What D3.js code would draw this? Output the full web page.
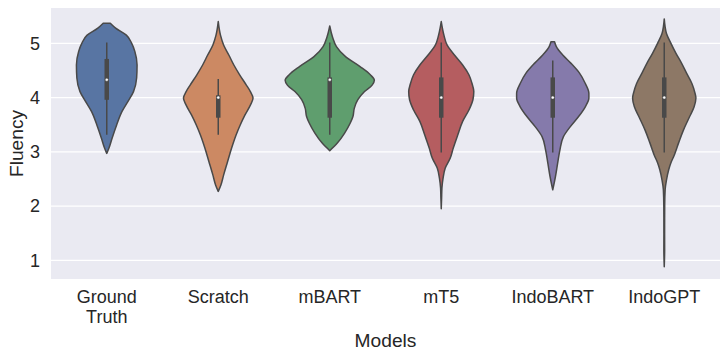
<!DOCTYPE html>
<html>
<head>
<meta charset="utf-8">
<script src="https://cdn.jsdelivr.net/npm/d3@7"></script>
<style>
  html, body { margin: 0; padding: 0; background: #ffffff; }
  svg { display: block; }
  text { font-family: "Liberation Sans", Arial, sans-serif; fill: #262626; }
</style>
</head>
<body>
<svg id="chart" width="727" height="357"></svg>
<script>
// ---------- data ----------
const categories = ["Ground Truth", "Scratch", "mBART", "mT5", "IndoBART", "IndoGPT"];
const categoryLabels = [["Ground", "Truth"], ["Scratch"], ["mBART"], ["mT5"], ["IndoBART"], ["IndoGPT"]];
const yTicks = [1, 2, 3, 4, 5];
const xAxisTitle = "Models";
const yAxisTitle = "Fluency";

// kernel density outlines: [fluency value, relative density]
const densityGroundTruth = [[5.37,0.08],[5.28,0.20],[5.15,0.44],[5.0,0.56],[4.85,0.63],[4.6,0.68],[4.36,0.67],[4.11,0.60],[3.92,0.47],[3.74,0.34],[3.49,0.22],[3.25,0.12],[3.07,0.05],[2.97,0]];
const densityScratch = [[5.40,0],[5.15,0.05],[4.97,0.12],[4.78,0.24],[4.60,0.35],[4.42,0.48],[4.23,0.63],[4.11,0.72],[3.99,0.78],[3.86,0.72],[3.68,0.60],[3.49,0.49],[3.31,0.40],[3.07,0.30],[2.82,0.21],[2.57,0.12],[2.39,0.06],[2.27,0]];
const densityMBART = [[5.32,0],[5.12,0.06],[4.94,0.15],[4.75,0.36],[4.57,0.68],[4.42,0.91],[4.32,1.0],[4.23,0.95],[4.11,0.78],[3.96,0.63],[3.80,0.55],[3.65,0.52],[3.53,0.46],[3.34,0.33],[3.16,0.17],[3.02,0]];
const densityMT5 = [[5.40,0],[5.15,0.06],[4.97,0.13],[4.78,0.30],[4.60,0.48],[4.42,0.62],[4.26,0.69],[4.11,0.73],[3.96,0.71],[3.77,0.62],[3.56,0.48],[3.31,0.37],[3.07,0.27],[2.88,0.20],[2.70,0.09],[2.51,0.04],[2.33,0.015],[2.15,0.008],[1.95,0]];
const densityIndoBART = [[5.03,0.04],[4.94,0.08],[4.78,0.23],[4.63,0.41],[4.45,0.60],[4.26,0.73],[4.08,0.81],[3.99,0.81],[3.83,0.73],[3.65,0.58],[3.46,0.39],[3.28,0.24],[3.03,0.16],[2.79,0.11],[2.54,0.06],[2.30,0]];
const densityIndoGPT = [[5.45,0],[5.18,0.05],[5.0,0.15],[4.82,0.26],[4.63,0.39],[4.45,0.50],[4.26,0.62],[4.08,0.69],[3.99,0.71],[3.83,0.67],[3.65,0.57],[3.40,0.43],[3.16,0.32],[2.91,0.21],[2.80,0.15],[2.67,0.10],[2.48,0.05],[2.30,0.02],[2.0,0.01],[1.5,0.008],[1.2,0.009],[0.88,0]];
const densities = [densityGroundTruth, densityScratch, densityMBART, densityMT5, densityIndoBART, densityIndoGPT];

// inner box statistics
const whiskerLow  = [3.33, 3.33, 3.33, 3.0, 3.0, 3.0];
const quartile1   = [4.0, 3.67, 3.67, 3.67, 3.67, 3.67];
const medians     = [4.33, 4.0, 4.33, 4.0, 4.0, 4.0];
const quartile3   = [4.67, 4.0, 4.33, 4.33, 4.33, 4.33];
const whiskerHigh = [5.0, 4.33, 5.0, 5.0, 4.67, 5.0];

const palette = ["#5875A3", "#CC8963", "#5F9E6E", "#B55D60", "#857AAB", "#8D7866"];

// ---------- layout ----------
const svg = d3.select("#chart");
const plot = { left: 51, top: 8, right: 720, bottom: 279 };
const gray = "#494949";

const x = d3.scaleBand().domain(categories).range([plot.left, plot.right]).padding(0);
const y = d3.scaleLinear().domain([0.655, 5.651]).range([plot.bottom, plot.top]);
const dens = d3.scaleLinear().domain([0, 1]).range([0, x.bandwidth() * 0.4]);

// background
svg.append("rect")
  .attr("x", plot.left).attr("y", plot.top)
  .attr("width", plot.right - plot.left).attr("height", plot.bottom - plot.top)
  .attr("fill", "#EAEAF2");

// grid
svg.append("g").selectAll("line").data(yTicks).join("line")
  .attr("x1", plot.left).attr("x2", plot.right)
  .attr("y1", d => y(d)).attr("y2", d => y(d))
  .attr("stroke", "#ffffff").attr("stroke-width", 1.25);

// y axis (no line, no ticks)
const yAxis = d3.axisLeft(y).tickValues(yTicks).tickFormat(d3.format("d")).tickSize(0).tickPadding(11);
const gy = svg.append("g").attr("transform", `translate(${plot.left},0)`).call(yAxis);
gy.select(".domain").remove();
gy.selectAll("text").attr("font-size", 18).attr("fill", "#262626")
  .style("font-family", '"Liberation Sans", Arial, sans-serif');

// x axis labels
const xAxis = d3.axisBottom(x).tickSize(0).tickFormat(() => "");
const gx = svg.append("g").attr("transform", `translate(0,${plot.bottom})`).call(xAxis);
gx.select(".domain").remove();
gx.selectAll(".tick").each(function(d, i) {
  const t = d3.select(this).append("text")
    .attr("text-anchor", "middle")
    .attr("font-size", 18)
    .attr("fill", "#262626")
    .style("font-family", '"Liberation Sans", Arial, sans-serif');
  categoryLabels[i].forEach((line, k) => {
    t.append("tspan").attr("x", 0).attr("y", 23.5 + k * 20.4).text(line);
  });
});

// violins
const gv = svg.append("g");
categories.forEach((cat, i) => {
  const cx = x(cat) + x.bandwidth() / 2;
  const area = d3.area()
    .curve(d3.curveMonotoneY)
    .y(d => y(d[0]))
    .x0(d => cx - dens(d[1]))
    .x1(d => cx + dens(d[1]));
  gv.append("path")
    .datum(densities[i])
    .attr("d", area)
    .attr("fill", palette[i])
    .attr("stroke", gray)
    .attr("stroke-width", 1.5)
    .attr("stroke-linejoin", "round");
  // whisker
  gv.append("line")
    .attr("x1", cx).attr("x2", cx)
    .attr("y1", y(whiskerLow[i])).attr("y2", y(whiskerHigh[i]))
    .attr("stroke", gray).attr("stroke-width", 1.5).attr("stroke-linecap", "square");
  // box
  gv.append("line")
    .attr("x1", cx).attr("x2", cx)
    .attr("y1", y(quartile1[i])).attr("y2", y(quartile3[i]))
    .attr("stroke", gray).attr("stroke-width", 4.5).attr("stroke-linecap", "square");
  // median
  gv.append("circle")
    .attr("cx", cx).attr("cy", y(medians[i])).attr("r", 1.5)
    .attr("fill", "#ffffff").attr("stroke", gray).attr("stroke-width", 0.4);
});

// axis titles
svg.append("text")
  .attr("x", (plot.left + plot.right) / 2).attr("y", 346.5)
  .attr("text-anchor", "middle").attr("font-size", 19.2)
  .text(xAxisTitle);
svg.append("text")
  .attr("transform", `translate(22.5,${(plot.top + plot.bottom) / 2}) rotate(-90)`)
  .attr("text-anchor", "middle").attr("font-size", 19.2)
  .text(yAxisTitle);
</script>
</body>
</html>
